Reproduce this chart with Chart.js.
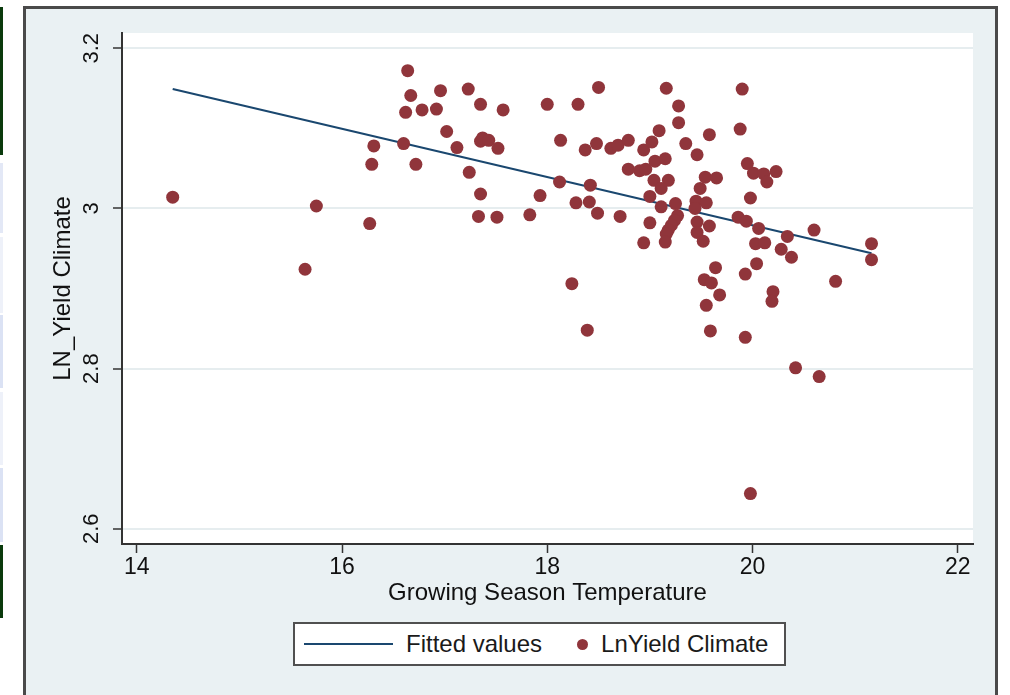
<!DOCTYPE html>
<html>
<head>
<meta charset="utf-8">
<title>LN_Yield Climate vs Growing Season Temperature</title>
<script src="https://cdn.jsdelivr.net/npm/chart.js@4.4.1/dist/chart.umd.min.js"></script>
<style>
  html, body { margin: 0; padding: 0; background: #fff; }
  body { width: 1010px; height: 695px; position: relative; overflow: hidden; font-family: "Liberation Sans", Arial, sans-serif; }
  .strip { position: absolute; left: 0; width: 3px; }
  #graphRegion { position: absolute; left: 23px; top: 6px; width: 969px; height: 700px; background: #eaf1f3; border: 3px solid #4a4a4a; border-bottom: none; }
  #chart { position: absolute; left: 0; top: 0; }
  #legend { position: absolute; left: 293px; top: 622px; width: 489px; height: 40px; background: #fff; border: 2px solid #505050; display: flex; align-items: center; font-size: 24px; color: #1a1a1a; white-space: nowrap; }
  #legend .item { display: flex; align-items: center; }
  #legend .key-line { display: inline-block; width: 89px; height: 2px; margin: 0 13px 0 9px; }
  #legend .key-dot { display: inline-block; width: 11px; height: 11px; border-radius: 50%; margin: 0 13px 0 35px; }
</style>
</head>
<body>
<div class="strip" style="top:7px;height:148px;background:#0a3a0c"></div>
<div class="strip" style="top:163px;height:70px;background:#e3e8f6"></div>
<div class="strip" style="top:237px;height:76px;background:#eef1f9"></div>
<div class="strip" style="top:315px;height:73px;background:#dbe2f4"></div>
<div class="strip" style="top:392px;height:73px;background:#eef1f9"></div>
<div class="strip" style="top:468px;height:74px;background:#dbe2f4"></div>
<div class="strip" style="top:545px;height:73px;background:#0a3a0c"></div>
<div id="graphRegion"></div>
<canvas id="chart" width="1010" height="695"></canvas>
<div id="legend"></div>
<script>
// growing season temperature and log yield, one entry per observation
const growingTemp = [
  14.35, 15.75, 15.64, 16.27, 16.29, 16.31, 16.60, 16.64, 16.67, 16.62,
  16.72, 16.78, 16.92, 16.96, 17.02, 17.12, 17.23, 17.24, 17.35, 17.35,
  17.33, 17.35, 17.37, 17.43, 17.52, 17.51, 17.57, 17.83, 17.93, 18.00,
  18.12, 18.13, 18.30, 18.28, 18.24, 18.37, 18.41, 18.42, 18.39, 18.48,
  18.50, 18.49, 18.62, 18.69, 18.79, 18.71, 18.79, 18.90, 18.96, 18.94,
  19.02, 19.09, 19.16, 19.28, 19.28, 19.05, 19.15, 19.00, 19.04, 19.18,
  19.11, 19.11, 19.25, 19.00, 18.94, 19.27, 19.24, 19.21, 19.18, 19.16,
  19.15, 19.35, 19.46, 19.58, 19.49, 19.54, 19.65, 19.45, 19.55, 19.44,
  19.46, 19.58, 19.46, 19.52, 19.64, 19.53, 19.60, 19.68, 19.55, 19.59,
  19.90, 19.88, 19.95, 20.01, 20.11, 20.14, 20.23, 19.98, 19.86, 19.94,
  20.06, 20.03, 20.12, 20.34, 20.28, 20.38, 20.60, 20.04, 19.93, 20.20,
  20.19, 20.81, 21.16, 21.16, 19.93, 20.42, 20.65, 19.98
];
const lnYield = [
  3.014, 3.003, 2.924, 2.981, 3.055, 3.078, 3.081, 3.172, 3.141, 3.120,
  3.055, 3.123, 3.124, 3.147, 3.096, 3.076, 3.149, 3.045, 3.130, 3.018,
  2.990, 3.084, 3.088, 3.085, 3.075, 2.989, 3.123, 2.992, 3.016, 3.130,
  3.033, 3.085, 3.130, 3.007, 2.906, 3.073, 3.008, 3.029, 2.848, 3.081,
  3.151, 2.994, 3.075, 3.079, 3.085, 2.990, 3.049, 3.047, 3.049, 3.073,
  3.083, 3.097, 3.150, 3.128, 3.107, 3.059, 3.062, 3.015, 3.035, 3.035,
  3.025, 3.002, 3.006, 2.982, 2.957, 2.991, 2.985, 2.979, 2.973, 2.968,
  2.958, 3.081, 3.067, 3.092, 3.025, 3.039, 3.038, 3.009, 3.007, 3.000,
  2.983, 2.978, 2.970, 2.959, 2.926, 2.911, 2.907, 2.892, 2.879, 2.847,
  3.149, 3.099, 3.056, 3.044, 3.043, 3.033, 3.046, 3.013, 2.989, 2.984,
  2.975, 2.956, 2.957, 2.965, 2.949, 2.939, 2.973, 2.931, 2.918, 2.896,
  2.884, 2.909, 2.956, 2.936, 2.839, 2.801, 2.790, 2.644
];

// end points of the linear fit
const fitTemp = [14.35, 21.16];
const fitValues = [3.149, 2.944];

const xTicks = [14, 16, 18, 20, 22];
const yTicks = [2.6, 2.8, 3, 3.2];

const textColor = '#111';
const axisColor = '#333';

// white plot region behind the grid
const plotBg = {
  id: 'plotBg',
  beforeDraw(chart) {
    const { ctx, chartArea: a } = chart;
    ctx.save();
    ctx.fillStyle = '#fff';
    ctx.fillRect(a.left, a.top, a.right - a.left, a.bottom - a.top);
    ctx.restore();
  }
};

const chart = new Chart(document.getElementById('chart'), {
  type: 'scatter',
  data: {
    datasets: [
      {
        label: 'Fitted values',
        data: fitTemp.map((t, i) => ({ x: t, y: fitValues[i] })),
        showLine: true,
        borderColor: '#1a476f',
        borderWidth: 2,
        pointRadius: 0,
        order: 2
      },
      {
        label: 'LnYield Climate',
        data: growingTemp.map((t, i) => ({ x: t, y: lnYield[i] })),
        backgroundColor: '#90353b',
        borderColor: '#90353b',
        borderWidth: 0,
        pointRadius: 6.5,
        order: 1
      }
    ]
  },
  options: {
    responsive: false,
    animation: false,
    events: [],
    layout: { padding: { left: 0, top: 33, right: 37, bottom: 0 } },
    plugins: {
      legend: { display: false },
      tooltip: { enabled: false }
    },
    scales: {
      x: {
        type: 'linear',
        min: 13.856,
        max: 22.149,
        afterBuildTicks: s => { s.ticks = xTicks.map(v => ({ value: v })); },
        afterFit: s => { s.height = 151; },
        grid: { drawOnChartArea: false, tickLength: 9, tickColor: axisColor, tickWidth: 1.5 },
        border: { color: axisColor, width: 2 },
        ticks: { color: textColor, font: { size: 23 }, padding: 1, maxRotation: 0, autoSkip: false },
        title: {
          display: true,
          text: 'Growing Season Temperature',
          color: textColor,
          font: { size: 24 },
          padding: { top: 0, bottom: 87 }
        }
      },
      y: {
        type: 'linear',
        min: 2.581,
        max: 3.219,
        afterBuildTicks: s => { s.ticks = yTicks.map(v => ({ value: v })); },
        afterFit: s => { s.width = 122; },
        grid: { color: '#e6edef', lineWidth: 2, tickLength: 9, tickColor: axisColor, tickWidth: 1.5 },
        border: { color: axisColor, width: 2 },
        ticks: {
          color: textColor,
          font: { size: 22 },
          padding: 6,
          minRotation: 90,
          maxRotation: 90,
          crossAlign: 'center',
          autoSkip: false,
          callback: v => String(v)
        },
        title: {
          display: true,
          text: 'LN_Yield Climate',
          color: textColor,
          font: { size: 24 },
          padding: { top: 49, bottom: 0 }
        }
      }
    },
    font: { family: '"Liberation Sans", Arial, sans-serif' }
  },
  plugins: [plotBg]
});

// legend in the box under the axis title, built from the datasets
function buildLegend(chart) {
  const box = document.getElementById('legend');
  chart.data.datasets.forEach(ds => {
    const item = document.createElement('span');
    item.className = 'item';
    const key = document.createElement('span');
    key.className = ds.showLine ? 'key-line' : 'key-dot';
    key.style.background = ds.showLine ? ds.borderColor : ds.backgroundColor;
    const label = document.createElement('span');
    label.textContent = ds.label;
    item.append(key, label);
    box.appendChild(item);
  });
}
buildLegend(chart);
</script>
</body>
</html>
